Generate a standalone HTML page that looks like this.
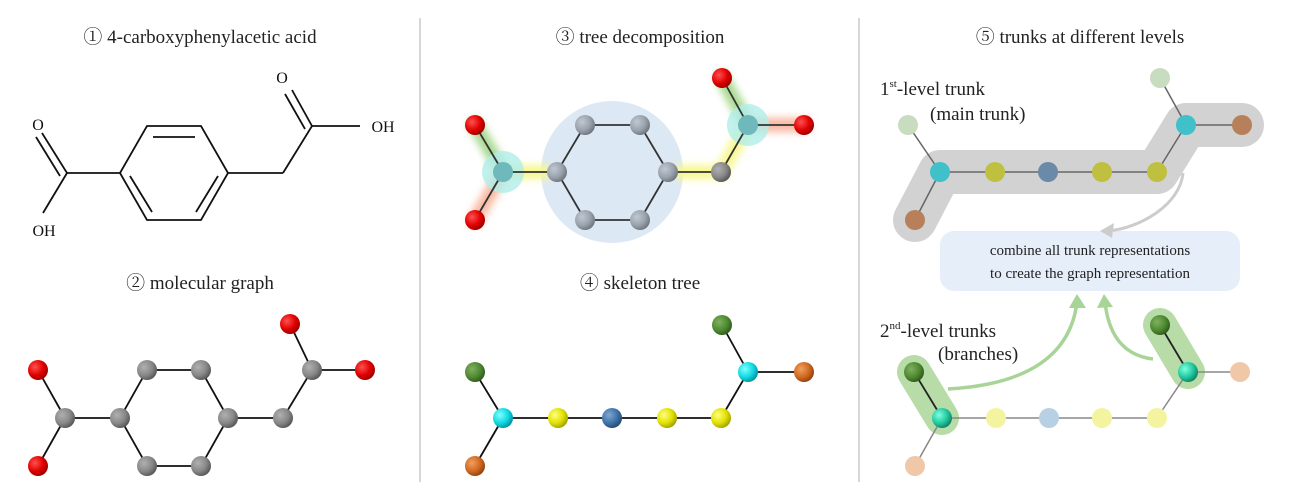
<!DOCTYPE html>
<html><head><meta charset="utf-8"><style>
body{margin:0;background:#fff;}
svg{display:block;font-family:"Liberation Serif","Noto Serif CJK SC",serif;}
</style></head><body>
<svg width="1292" height="495" viewBox="0 0 1292 495" xmlns="http://www.w3.org/2000/svg">
<defs>
<radialGradient id="gRed" cx="0.35" cy="0.35" r="0.7"><stop offset="0" stop-color="#ff5050"/><stop offset="0.6" stop-color="#e00000"/><stop offset="1" stop-color="#900"/></radialGradient>
<radialGradient id="gGray" cx="0.35" cy="0.35" r="0.7"><stop offset="0" stop-color="#b0b0b0"/><stop offset="0.6" stop-color="#888"/><stop offset="1" stop-color="#555"/></radialGradient>
<radialGradient id="gSlate" cx="0.35" cy="0.35" r="0.7"><stop offset="0" stop-color="#c0c8d2"/><stop offset="0.6" stop-color="#9aa2ad"/><stop offset="1" stop-color="#6d747d"/></radialGradient>
<radialGradient id="gGreen" cx="0.35" cy="0.35" r="0.7"><stop offset="0" stop-color="#80b060"/><stop offset="0.6" stop-color="#4f8a32"/><stop offset="1" stop-color="#2f5a1a"/></radialGradient>
<radialGradient id="gCyan" cx="0.35" cy="0.35" r="0.7"><stop offset="0" stop-color="#80ffff"/><stop offset="0.6" stop-color="#10d8e0"/><stop offset="1" stop-color="#0090a0"/></radialGradient>
<radialGradient id="gOrange" cx="0.35" cy="0.35" r="0.7"><stop offset="0" stop-color="#f0a060"/><stop offset="0.6" stop-color="#d06820"/><stop offset="1" stop-color="#904010"/></radialGradient>
<radialGradient id="gYellow" cx="0.35" cy="0.35" r="0.7"><stop offset="0" stop-color="#ffff80"/><stop offset="0.6" stop-color="#e0e000"/><stop offset="1" stop-color="#a0a000"/></radialGradient>
<radialGradient id="gBlue" cx="0.35" cy="0.35" r="0.7"><stop offset="0" stop-color="#80a8d0"/><stop offset="0.6" stop-color="#3f73a8"/><stop offset="1" stop-color="#244a70"/></radialGradient>
<radialGradient id="gTeal" cx="0.35" cy="0.35" r="0.7"><stop offset="0" stop-color="#80ffe0"/><stop offset="0.6" stop-color="#20c8a0"/><stop offset="1" stop-color="#108060"/></radialGradient>
<filter id="blur"><feGaussianBlur stdDeviation="4"/></filter>
</defs>

<!-- dividers -->
<line x1="420" y1="18" x2="420" y2="482" stroke="#ccc" stroke-width="1.5"/>
<line x1="859" y1="18" x2="859" y2="482" stroke="#ccc" stroke-width="1.5"/>

<!-- titles -->
<g font-size="19" fill="#222" text-anchor="middle">
<text x="200" y="43">① 4-carboxyphenylacetic acid</text>
<text x="200" y="289">② molecular graph</text>
<text x="640" y="43">③ tree decomposition</text>
<text x="640" y="289">④ skeleton tree</text>
<text x="1080" y="43">⑤ trunks at different levels</text>
</g>

<!-- panel 1 structure -->
<g stroke="#111" stroke-width="1.8" fill="none">
<polygon points="147,126 201,126 228,173 201,220 147,220 120,173"/>
<line x1="153" y1="137" x2="195" y2="137"/>
<line x1="130" y1="176" x2="152" y2="212"/>
<line x1="218" y1="176" x2="196" y2="212"/>
<line x1="120" y1="173" x2="67" y2="173"/>
<line x1="67" y1="173" x2="42" y2="133"/>
<line x1="60" y1="176" x2="36" y2="137"/>
<line x1="67" y1="173" x2="43" y2="213"/>
<line x1="228" y1="173" x2="283" y2="173"/>
<line x1="283" y1="173" x2="312" y2="126"/>
<line x1="312" y1="126" x2="360" y2="126"/>
<line x1="312" y1="126" x2="292" y2="90"/>
<line x1="305" y1="129" x2="285" y2="94"/>
</g>
<g font-size="16" fill="#111" text-anchor="middle">
<text x="38" y="130">O</text>
<text x="44" y="236">OH</text>
<text x="282" y="83">O</text>
<text x="383" y="132">OH</text>
</g>

<!-- panel 1 molecular graph -->
<g stroke="#111" stroke-width="1.8">
<polygon points="147,370 201,370 228,418 201,466 147,466 120,418" fill="none"/>
<line x1="38" y1="370" x2="65" y2="418"/><line x1="38" y1="466" x2="65" y2="418"/>
<line x1="65" y1="418" x2="120" y2="418"/><line x1="228" y1="418" x2="283" y2="418"/>
<line x1="283" y1="418" x2="312" y2="370"/><line x1="312" y1="370" x2="290" y2="324"/><line x1="312" y1="370" x2="365" y2="370"/>
</g>
<g>
<circle cx="38" cy="370" r="10" fill="url(#gRed)"/><circle cx="38" cy="466" r="10" fill="url(#gRed)"/>
<circle cx="290" cy="324" r="10" fill="url(#gRed)"/><circle cx="365" cy="370" r="10" fill="url(#gRed)"/>
<circle cx="65" cy="418" r="10" fill="url(#gGray)"/>
<circle cx="147" cy="370" r="10" fill="url(#gGray)"/><circle cx="201" cy="370" r="10" fill="url(#gGray)"/>
<circle cx="228" cy="418" r="10" fill="url(#gGray)"/><circle cx="201" cy="466" r="10" fill="url(#gGray)"/>
<circle cx="147" cy="466" r="10" fill="url(#gGray)"/><circle cx="120" cy="418" r="10" fill="url(#gGray)"/>
<circle cx="283" cy="418" r="10" fill="url(#gGray)"/><circle cx="312" cy="370" r="10" fill="url(#gGray)"/>
</g>

<!-- panel 2 tree decomposition -->
<circle cx="612" cy="172" r="71" fill="#dde8f5"/>
<g filter="url(#blur)" stroke-linecap="round">
<line x1="475" y1="125" x2="503" y2="172" stroke="#a8d890" stroke-width="14"/>
<line x1="475" y1="220" x2="503" y2="172" stroke="#f8b8a0" stroke-width="14"/>
<line x1="503" y1="172" x2="545" y2="172" stroke="#f8f890" stroke-width="14"/>
<polyline points="680,172 721,172 748,125" fill="none" stroke="#f8f890" stroke-width="14"/>
<line x1="722" y1="78" x2="748" y2="125" stroke="#a8d890" stroke-width="14"/>
<line x1="748" y1="125" x2="804" y2="125" stroke="#f8b8a0" stroke-width="14"/>
</g>
<circle cx="503" cy="172" r="21" fill="#b0eee8" opacity="0.8"/>
<circle cx="748" cy="125" r="21" fill="#b0eee8" opacity="0.8"/>
<g stroke="#333" stroke-width="1.8">
<polygon points="585,125 640,125 668,172 640,220 585,220 557,172" fill="none"/>
<line x1="475" y1="125" x2="503" y2="172"/><line x1="475" y1="220" x2="503" y2="172"/>
<line x1="503" y1="172" x2="557" y2="172"/><line x1="668" y1="172" x2="721" y2="172"/>
<line x1="721" y1="172" x2="748" y2="125"/><line x1="722" y1="78" x2="748" y2="125"/><line x1="748" y1="125" x2="804" y2="125"/>
</g>
<g>
<circle cx="475" cy="125" r="10" fill="url(#gRed)"/><circle cx="475" cy="220" r="10" fill="url(#gRed)"/>
<circle cx="722" cy="78" r="10" fill="url(#gRed)"/><circle cx="804" cy="125" r="10" fill="url(#gRed)"/>
<circle cx="503" cy="172" r="10" fill="#6fb8bc"/><circle cx="748" cy="125" r="10" fill="#6fb8bc"/>
<circle cx="585" cy="125" r="10" fill="url(#gSlate)"/><circle cx="640" cy="125" r="10" fill="url(#gSlate)"/>
<circle cx="668" cy="172" r="10" fill="url(#gSlate)"/><circle cx="640" cy="220" r="10" fill="url(#gSlate)"/>
<circle cx="585" cy="220" r="10" fill="url(#gSlate)"/><circle cx="557" cy="172" r="10" fill="url(#gSlate)"/>
<circle cx="721" cy="172" r="10" fill="url(#gGray)"/>
</g>

<!-- panel 2 skeleton tree -->
<g stroke="#111" stroke-width="1.8">
<line x1="475" y1="372" x2="503" y2="418"/><line x1="475" y1="466" x2="503" y2="418"/>
<line x1="503" y1="418" x2="721" y2="418"/><line x1="721" y1="418" x2="748" y2="372"/>
<line x1="722" y1="325" x2="748" y2="372"/><line x1="748" y1="372" x2="804" y2="372"/>
</g>
<g>
<circle cx="475" cy="372" r="10" fill="url(#gGreen)"/><circle cx="503" cy="418" r="10" fill="url(#gCyan)"/>
<circle cx="475" cy="466" r="10" fill="url(#gOrange)"/><circle cx="558" cy="418" r="10" fill="url(#gYellow)"/>
<circle cx="612" cy="418" r="10" fill="url(#gBlue)"/><circle cx="667" cy="418" r="10" fill="url(#gYellow)"/>
<circle cx="721" cy="418" r="10" fill="url(#gYellow)"/><circle cx="748" cy="372" r="10" fill="url(#gCyan)"/>
<circle cx="722" cy="325" r="10" fill="url(#gGreen)"/><circle cx="804" cy="372" r="10" fill="url(#gOrange)"/>
</g>

<!-- panel 3 top -->
<polyline points="915,220 940,172 1157,172 1186,125 1242,125" fill="none" stroke="#d2d2d2" stroke-width="44" stroke-linejoin="round" stroke-linecap="round"/>
<g stroke="#666" stroke-width="1.5">
<line x1="908" y1="125" x2="940" y2="172"/><line x1="915" y1="220" x2="940" y2="172"/>
<line x1="940" y1="172" x2="1157" y2="172"/><line x1="1157" y1="172" x2="1186" y2="125"/>
<line x1="1160" y1="78" x2="1186" y2="125"/><line x1="1186" y1="125" x2="1242" y2="125"/>
</g>
<g>
<circle cx="908" cy="125" r="10" fill="#c8dcc0"/><circle cx="940" cy="172" r="10" fill="#40c0c8"/>
<circle cx="915" cy="220" r="10" fill="#b8805a"/><circle cx="995" cy="172" r="10" fill="#c0c040"/>
<circle cx="1048" cy="172" r="10" fill="#6a8aa8"/><circle cx="1102" cy="172" r="10" fill="#c0c040"/>
<circle cx="1157" cy="172" r="10" fill="#c0c040"/><circle cx="1186" cy="125" r="10" fill="#40c0c8"/>
<circle cx="1160" cy="78" r="10" fill="#c8dcc0"/><circle cx="1242" cy="125" r="10" fill="#b8805a"/>
</g>
<text x="880" y="95" font-size="19" fill="#222">1<tspan font-size="11" dy="-8">st</tspan><tspan dy="8">-level trunk</tspan></text>
<text x="930" y="120" font-size="19" fill="#222">(main trunk)</text>

<!-- box -->
<rect x="940" y="231" width="300" height="60" rx="14" fill="#e6eff9"/>
<g font-size="15" fill="#222" text-anchor="middle">
<text x="1090" y="255">combine all trunk representations</text>
<text x="1090" y="278">to create the graph representation</text>
</g>
<!-- gray arrow -->
<path d="M1183,173 C1180,205 1140,228 1108,231" fill="none" stroke="#ccc" stroke-width="3"/>
<polygon points="1100,231 1114,223 1112,238" fill="#ccc"/>

<!-- panel 3 bottom -->
<line x1="914" y1="372" x2="942" y2="418" stroke="#b8dca8" stroke-width="34" stroke-linecap="round"/>
<line x1="1160" y1="325" x2="1188" y2="372" stroke="#b8dca8" stroke-width="34" stroke-linecap="round"/>
<g stroke="#888" stroke-width="1.5">
<line x1="915" y1="466" x2="942" y2="418"/><line x1="942" y1="418" x2="1157" y2="418"/>
<line x1="1157" y1="418" x2="1188" y2="372"/><line x1="1188" y1="372" x2="1240" y2="372"/>
</g>
<g stroke="#222" stroke-width="1.8">
<line x1="914" y1="372" x2="942" y2="418"/><line x1="1160" y1="325" x2="1188" y2="372"/>
</g>
<g>
<circle cx="914" cy="372" r="10" fill="url(#gGreen)"/><circle cx="942" cy="418" r="10" fill="url(#gTeal)"/>
<circle cx="915" cy="466" r="10" fill="#f0c8a8"/><circle cx="996" cy="418" r="10" fill="#f4f4a0"/>
<circle cx="1049" cy="418" r="10" fill="#b8d0e4"/><circle cx="1102" cy="418" r="10" fill="#f4f4a0"/>
<circle cx="1157" cy="418" r="10" fill="#f4f4a0"/><circle cx="1188" cy="372" r="10" fill="url(#gTeal)"/>
<circle cx="1160" cy="325" r="10" fill="url(#gGreen)"/><circle cx="1240" cy="372" r="10" fill="#f0c8a8"/>
</g>
<!-- green arrows -->
<path d="M948,389 C1020,385 1070,360 1077,302" fill="none" stroke="#a8d498" stroke-width="3.5"/>
<polygon points="1077,294 1069,308 1086,308" fill="#a8d498"/>
<path d="M1153,359 C1120,355 1108,330 1105,302" fill="none" stroke="#a8d498" stroke-width="3.5"/>
<polygon points="1104,294 1097,308 1113,307" fill="#a8d498"/>
<text x="880" y="337" font-size="19" fill="#222">2<tspan font-size="11" dy="-8">nd</tspan><tspan dy="8">-level trunks</tspan></text>
<text x="938" y="360" font-size="19" fill="#222">(branches)</text>
</svg>
</body></html>
